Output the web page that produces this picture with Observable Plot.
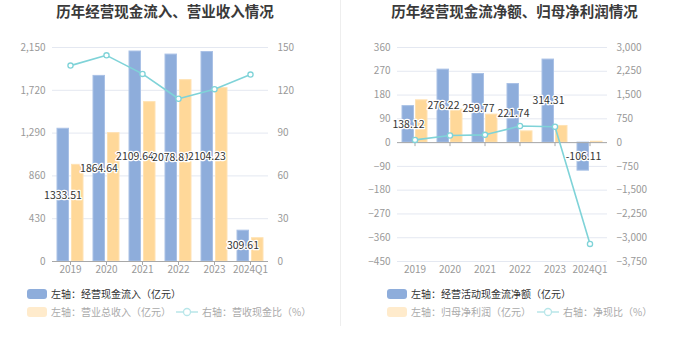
<!DOCTYPE html>
<html><head><meta charset="utf-8">
<script src="https://cdn.jsdelivr.net/npm/d3@7"></script>
<script src="https://cdn.jsdelivr.net/npm/@observablehq/plot@0.6"></script>
<style>
body{margin:0;background:#fff;font-family:"Noto Sans CJK SC","Noto Sans",sans-serif;}
#wrap{position:relative;width:680px;height:349px;overflow:hidden;}
.title{position:absolute;top:0;font-size:14.5px;font-weight:bold;color:#3a3a3a;text-align:center;line-height:22px;}
.panel{position:absolute;top:24px;}
.leg{position:absolute;font-size:10px;line-height:12px;white-space:nowrap;display:flex;align-items:center;}
.sw{display:inline-block;width:20px;height:10px;border-radius:3px;margin-right:4px;}
.sep{position:absolute;left:340px;top:0;width:1px;height:326px;background:#eeeeee;}
</style></head>
<body><div id="wrap"></div>
<script>
const years = ["2019","2020","2021","2022","2023","2024Q1"];
// Left chart
const cashInflow = [1333.51,1864.64,2109.64,2078.81,2104.23,309.61];
const revenue = [971,1290,1601,1822,1742,234];
const cashRevRatio = [137.3,144.5,131.5,114.1,120.8,131.0];
const leftTicksL = [0,430,860,1290,1720,2150];
const leftTicksR = [0,30,60,90,120,150];
// Right chart
const netCashFlow = [138.12,276.22,259.77,221.74,314.31,-106.11];
const netProfit = [160,125,106,42.5,63,3.3];
const netCashRatio = [86,222,245,522,500,-3195];
const rightTicksL = [360,270,180,90,0,-90,-180,-270,-360,-450];
const rightTicksR = [3000,2250,1500,750,0,-750,-1500,-2250,-3000,-3750];

const BLUE="#8eaddb", BLUE_S="#a9c1e6", ORANGE="#ffd899", ORANGE_S="#ffe2b3", TEAL="#7fd3d8";
const fmt = d3.format(",");
const wrap = document.getElementById("wrap");

function panel(opts){
  const {cats, bars1, bars2, ratio, ticksL, ticksR, domain, k, mLeft, mRight, bandIn, zeroAxis} = opts;
  const data = cats.map((c,i)=>({c, a:bars1[i], b:bars2[i], r:ratio[i]}));
  const H=260, mT=23, mB=23;
  const y0px = mT + (domain[1]-0)/(domain[1]-domain[0])*(H-mT-mB);
  const marks = [
    Plot.gridY(ticksL, {stroke:"#e4e8f1", strokeOpacity:1}),
    Plot.axisY(ticksL, {anchor:"left", tickSize:0, tickPadding:7, tickFormat:fmt, fill:"#999", fontSize:10, label:null}),
    Plot.axisY(ticksR.map(v=>v*k), {anchor:"right", tickSize:0, tickPadding:9, tickFormat:d=>fmt(Math.round(d/k)), fill:"#999", fontSize:10, textAnchor:"start", label:null}),
    Plot.barY(data, {x:"c", y:"a", fill:BLUE, stroke:BLUE_S, strokeWidth:1, insetLeft:bandIn[0], insetRight:bandIn[1]}),
    Plot.barY(data, {x:"c", y:"b", fill:ORANGE, stroke:ORANGE_S, strokeWidth:1, insetLeft:bandIn[1], insetRight:bandIn[0]}),
    Plot.ruleY([0], {stroke:"#a8a8a8", strokeWidth:1})
  ];
  if(zeroAxis){
    marks.push(Plot.axisX({anchor:"bottom", tickSize:4, tickPadding:0, stroke:"#a8a8a8", text:null, label:null, dy:y0px-(H-mB)}));
    marks.push(Plot.axisX({anchor:"bottom", tickSize:0, tickPadding:4, fill:"#999", fontSize:10, label:null}));
  } else {
    marks.push(Plot.axisX({anchor:"bottom", tickSize:4, tickPadding:0, stroke:"#a8a8a8", fill:"#999", fontSize:10, label:null}));
  }
  marks.push(
    Plot.line(data, {x:"c", y:d=>d.r*k, stroke:TEAL, strokeWidth:1.6}),
    Plot.dot(data, {x:"c", y:d=>d.r*k, r:2.6, fill:"#fff", stroke:TEAL, strokeWidth:1.3}),
    Plot.text(data, {x:"c", y:d=>d.a/2, text:d=>d.a.toFixed(2), dx:-(opts.labelDx), fill:"#333", stroke:"#fff", strokeWidth:2.5, fontSize:10.5})
  );
  return Plot.plot({
    width:340, height:H, marginTop:mT, marginBottom:mB, marginLeft:mLeft, marginRight:mRight,
    style:{fontFamily:'"Noto Sans CJK SC","Noto Sans",sans-serif', background:"transparent"},
    x:{domain:cats, padding:0, axis:null, label:null},
    y:{domain, axis:null, label:null},
    marks
  });
}

const left = panel({cats:years, bars1:cashInflow, bars2:revenue, ratio:cashRevRatio,
  ticksL:leftTicksL, ticksR:leftTicksR, domain:[0,2150], k:2150/150, mLeft:52, mRight:72, bandIn:[5,19.5], labelDx:7.5});
const right = panel({cats:years, bars1:netCashFlow, bars2:netProfit, ratio:netCashRatio,
  ticksL:rightTicksL, ticksR:rightTicksR, domain:[-450,360], k:360/3000, mLeft:57, mRight:73, bandIn:[5,18.5], labelDx:6.5, zeroAxis:true});

function add(html){const d=document.createElement("div");d.innerHTML=html;while(d.firstChild)wrap.appendChild(d.firstChild);}
add(`<div class="title" style="left:0;width:330px">历年经营现金流入、营业收入情况</div>`);
add(`<div class="title" style="left:340px;width:349px">历年经营现金流净额、归母净利润情况</div>`);
const p1=document.createElement("div");p1.className="panel";p1.style.left="0px";p1.appendChild(left);wrap.appendChild(p1);
const p2=document.createElement("div");p2.className="panel";p2.style.left="340px";p2.appendChild(right);wrap.appendChild(p2);
add(`<div class="sep"></div>`);
const lineSw = `<svg width="22" height="10" style="margin-right:4px"><line x1="0" y1="5" x2="22" y2="5" stroke="#b8e6e9" stroke-width="1.5"/><circle cx="11" cy="5" r="3.5" fill="#fff" stroke="#b8e6e9" stroke-width="1.3"/></svg>`;
add(`<div class="leg" style="left:27px;top:288px;color:#333"><span class="sw" style="background:${BLUE}"></span>左轴：经营现金流入（亿元）</div>`);
add(`<div class="leg" style="left:27px;top:306px;color:#aaa"><span class="sw" style="background:#ffebcc"></span>左轴：营业总收入（亿元）<span style="display:inline-block;width:5px"></span>${lineSw}右轴：营收现金比（%）</div>`);
add(`<div class="leg" style="left:387px;top:288px;color:#333"><span class="sw" style="background:${BLUE}"></span>左轴：经营活动现金流净额（亿元）</div>`);
add(`<div class="leg" style="left:387px;top:306px;color:#aaa"><span class="sw" style="background:#ffebcc"></span>左轴：归母净利润（亿元）<span style="display:inline-block;width:6px"></span>${lineSw}右轴：净现比（%）</div>`);
</script></body></html>
